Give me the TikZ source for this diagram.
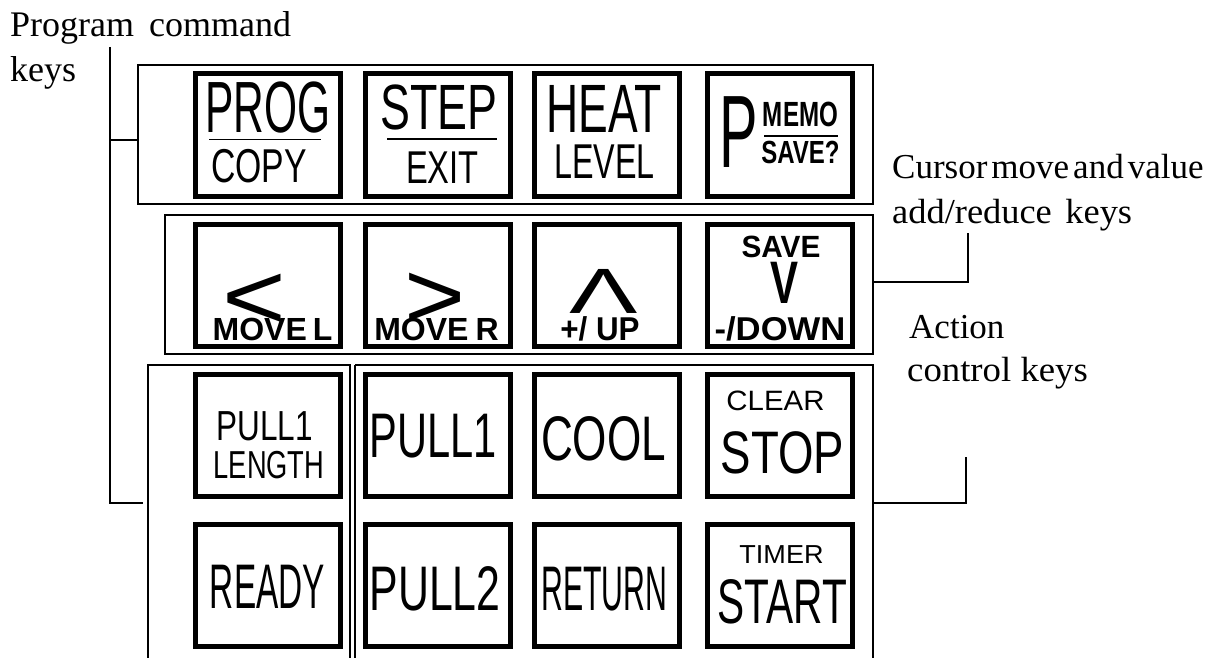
\documentclass[tikz,border=0pt]{standalone}
\usepackage{fontspec}
\usepackage{graphicx}
\setmainfont{Liberation Serif}
\newfontfamily\keyfont{Liberation Sans}
\newcommand\kt[3]{\scalebox{#2}[1]{\fontsize{#1}{#1}\selectfont\keyfont #3}}
\newcommand\ktb[3]{\scalebox{#2}[1]{\fontsize{#1}{#1}\selectfont\keyfont\bfseries #3}}
\begin{document}
\begin{tikzpicture}[x=1pt,y=-1pt,
  keybox/.style={draw, line width=5pt, minimum width=145pt, minimum height=122pt, inner sep=0pt},
  grp/.style={line width=2pt},
  brk/.style={line width=1.5pt},
  sep/.style={line width=1.2pt},
  ktext/.style={inner sep=0pt, anchor=base},
  lab/.style={inner sep=0pt, anchor=base west, font=\fontsize{35}{35}\selectfont}]
\useasboundingbox (0,0) rectangle (1223,658);

% group boxes
\draw[grp] (138,65) rectangle (873,204);
\draw[grp] (165,215) rectangle (873,354);
\draw[line width=1.5pt] (148,658) -- (148,365) -- (350,365) -- (350,658);
\draw[grp] (873,658) -- (873,365) -- (355,365);
\draw[line width=2.5pt] (355,365) -- (355,658);

% keys row 1
\node[keybox] (k11) at (268,135) {};
\node[keybox] (k12) at (437.5,135) {};
\node[keybox] (k13) at (607,135) {};
\node[keybox] (k14) at (780,135) {};
% row 2
\node[keybox] (k21) at (268,285.5) {};
\node[keybox] (k22) at (437.5,285.5) {};
\node[keybox] (k23) at (607,285.5) {};
\node[keybox] (k24) at (780,285.5) {};
% row 3
\node[keybox] (k31) at (268,435.5) {};
\node[keybox] (k32) at (437.5,435.5) {};
\node[keybox] (k33) at (607,435.5) {};
\node[keybox] (k34) at (780,435.5) {};
% row 4
\node[keybox] (k41) at (268,585) {};
\node[keybox] (k42) at (437.5,585) {};
\node[keybox] (k43) at (607,585) {};
\node[keybox] (k44) at (780,585) {};

% row 1 texts
\node[ktext] (tprog) at (268,132) {\kt{72.6}{0.585}{PROG}};
\draw[sep] (209,139.5) -- (321,139.5);
\node[ktext] (tcopy) at (259,182) {\kt{47.5}{0.71}{COPY}};
\node[ktext] (tstep) at (439,130) {\kt{64}{0.70}{STEP}};
\draw[sep] (387,139) -- (497,139);
\node[ktext] (texit) at (442.5,183) {\kt{46}{0.71}{EXIT}};
\node[ktext] (theat) at (604.5,132) {\kt{68.4}{0.65}{HEAT}};
\node[ktext] (tlevel) at (604.5,178) {\kt{48.9}{0.66}{LEVEL}};
\node[ktext] (tp) at (739,167) {\kt{103}{0.56}{P}};
\node[ktext] (tmemo) at (800.5,127) {\ktb{35}{0.69}{MEMO}};
\draw[sep] (764,136) -- (838,136);
\node[ktext] (tsave) at (800.5,163) {\ktb{32}{0.75}{SAVE?}};

% row 2 texts
\node[ktext] (tlt) at (254,329) {\kt{95}{1.15}{<}};
\node[ktext] (tmovel) at (272.5,340) {\ktb{32}{1}{MOVE\kern6pt L}};
\node[ktext] (tgt) at (435,328) {\kt{95}{1.1}{>}};
\node[ktext] (tmover) at (436.5,340) {\ktb{32}{1}{MOVE\kern7pt R}};
\node[ktext] (tup) at (603.5,313) {\kt{64}{1.6}{Λ}};
\node[ktext] (tplus) at (600,340) {\ktb{33}{0.95}{+/ UP}};
\node[ktext] (tsave2) at (781,257) {\ktb{30.7}{0.97}{SAVE}};
\node[ktext] (tv) at (784,303) {\ktb{60}{0.7}{V}};
\node[ktext] (tdown) at (780,340) {\ktb{33}{1.05}{-/DOWN}};

% row 3 texts
\node[ktext] (tpl1a) at (264.5,440) {\kt{42}{0.75}{PULL1}};
\node[ktext] (tlen) at (269,478) {\kt{39}{0.70}{LENGTH}};
\node[ktext] (tpl1) at (433,457) {\kt{63}{0.66}{PULL1}};
\node[ktext] (tcool) at (603.5,460) {\kt{63}{0.70}{COOL}};
\node[ktext] (tclear) at (775.5,410) {\kt{28}{1.05}{CLEAR}};
\node[ktext] (tstop) at (782.5,473) {\kt{60}{0.76}{STOP}};

% row 4 texts
\node[ktext] (tready) at (267.5,608) {\kt{63}{0.53}{READY}};
\node[ktext] (tpl2) at (435,610) {\kt{63}{0.68}{PULL2}};
\node[ktext] (tret) at (604.5,610) {\kt{63}{0.48}{RETURN}};
\node[ktext] (ttimer) at (781.5,563) {\kt{26}{1.04}{TIMER}};
\node[ktext] (tstart) at (782.5,623) {\kt{63}{0.645}{START}};

% labels
\node[lab] (lprog) at (10,37) {\fontsize{36}{36}\selectfont Program\hspace{6pt} command};
\node[lab] (lkeys) at (10,82) {\fontsize{36}{36}\selectfont keys};
\node[lab] (lcur1) at (892,178) {Cursor\hspace{4pt}move\hspace{4pt}and\hspace{4pt}value};
\node[lab] (lcur2) at (892,223) {\scalebox{1.04}[1]{add/reduce\hspace{13pt}keys}};
\node[lab] (lact1) at (909,338) {Action};
\node[lab] (lact2) at (907,381) {\scalebox{1.05}[1]{control keys}};

% brackets
\coordinate (pa) at (110,47);
\coordinate (pb) at (110,503);
\coordinate (pc) at (143,503);
\coordinate (pd) at (110,140);
\coordinate (b1w) at (138,140);
\draw[brk] (pa) -- (pb) -- (pc);
\draw[brk] (pd) -- (b1w);
\coordinate (b2e) at (873,282);
\coordinate (ca) at (968,282);
\coordinate (cb) at (968,233);
\draw[brk] (b2e) -- (ca) -- (cb);
\coordinate (b3e) at (873,503);
\coordinate (aa) at (966,503);
\coordinate (ab) at (966,457);
\draw[brk] (b3e) -- (aa) -- (ab);
\end{tikzpicture}
\end{document}
